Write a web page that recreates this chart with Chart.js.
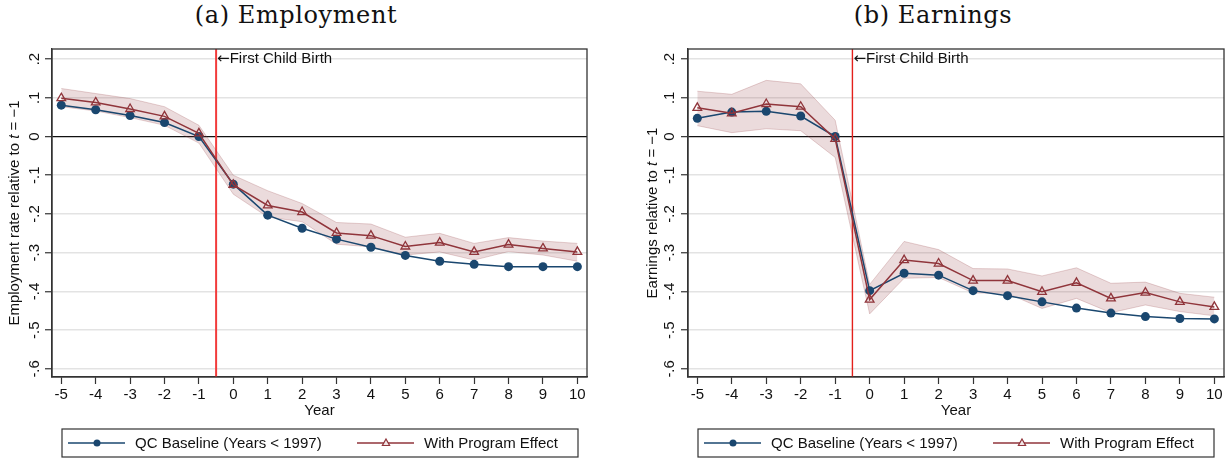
<!DOCTYPE html>
<html>
<head>
<meta charset="utf-8">
<script src="https://cdn.jsdelivr.net/npm/chart.js@4/dist/chart.umd.min.js"></script>
<style>
  body { margin: 0; background: #fff; width: 1232px; height: 459px; position: relative; overflow: hidden; }
  .panel { position: absolute; top: 0; width: 616px; height: 459px; }
  .panel canvas { display: block; }
  .titulo { position: absolute; top: 0; height: 30px; line-height: 30px; text-align: center;
            font-family: "DejaVu Serif", serif; font-size: 24px; letter-spacing: 0.6px; color: #111; white-space: nowrap; }
</style>
</head>
<body>
<div class="titulo" style="left:176px;width:240px;">(a) Employment</div>
<div class="titulo" style="left:813px;width:240px;">(b) Earnings</div>
<div class="panel" style="left:0;"><canvas id="empChart" width="616" height="459"></canvas></div>
<div class="panel" style="left:616px;"><canvas id="earnChart" width="616" height="459"></canvas></div>
<script>
// years around first birth
const years = [-5, -4, -3, -2, -1, 0, 1, 2, 3, 4, 5, 6, 7, 8, 9, 10];
const yTicks = [-0.6, -0.5, -0.4, -0.3, -0.2, -0.1, 0, 0.1, 0.2];
const yTickLabels = ['-.6', '-.5', '-.4', '-.3', '-.2', '-.1', '0', '.1', '.2'];

// employment rate relative to t = -1
const empBase  = [0.081, 0.069, 0.054, 0.036, 0, -0.123, -0.203, -0.237, -0.265, -0.286, -0.307, -0.322, -0.330, -0.336, -0.336, -0.336];
const empProg  = [0.099, 0.088, 0.071, 0.052, 0.008, -0.125, -0.178, -0.195, -0.249, -0.256, -0.284, -0.274, -0.298, -0.279, -0.289, -0.298];
const empUpper = [0.124, 0.111, 0.098, 0.077, 0.029, -0.100, -0.140, -0.173, -0.222, -0.226, -0.260, -0.250, -0.276, -0.261, -0.270, -0.276];
const empLower = [0.077, 0.066, 0.049, 0.029, -0.017, -0.149, -0.208, -0.220, -0.278, -0.285, -0.306, -0.298, -0.319, -0.297, -0.306, -0.322];

// earnings relative to t = -1
const earnBase  = [0.047, 0.063, 0.065, 0.053, 0, -0.398, -0.353, -0.358, -0.398, -0.411, -0.427, -0.443, -0.456, -0.465, -0.470, -0.471];
const earnProg  = [0.074, 0.060, 0.084, 0.077, -0.006, -0.421, -0.319, -0.328, -0.372, -0.372, -0.401, -0.378, -0.418, -0.403, -0.427, -0.440];
const earnUpper = [0.117, 0.109, 0.145, 0.136, 0.042, -0.382, -0.271, -0.292, -0.341, -0.342, -0.360, -0.339, -0.379, -0.376, -0.405, -0.415];
const earnLower = [0.028, 0.010, 0.020, 0.015, -0.054, -0.458, -0.366, -0.364, -0.404, -0.405, -0.444, -0.418, -0.455, -0.435, -0.452, -0.463];

const birthYear = -0.5;
const birthText = 'First Child Birth';
const seriesNames = ['QC Baseline (Years < 1997)', 'With Program Effect'];

const FONT = '"Liberation Sans", Arial, sans-serif';
const BLUE = '#1a476f';
const MAROON = '#90353b';

document.addEventListener('DOMContentLoaded', () => {
    crearGrafico({
        id: 'empChart',
        yTitle: ['Employment rate relative to ', 't', ' = \u22121'],
        base: empBase, prog: empProg, upper: empUpper, lower: empLower,
        axisWidth: 52, padRight: 29, tickLabelX: 35, yTitleX: 15,
        legendLeft: 62, birthColor: '#f23b3b', birthWidth: 2
    });
    crearGrafico({
        id: 'earnChart',
        yTitle: ['Earnings relative to ', 't', ' = \u22121'],
        base: earnBase, prog: earnProg, upper: earnUpper, lower: earnLower,
        axisWidth: 72, padRight: 8, tickLabelX: 54, yTitleX: 37,
        legendLeft: 82, birthColor: '#e3201c', birthWidth: 1.4
    });
});

function pairs(values) {
    return years.map((x, i) => ({ x: x, y: values[i] }));
}

function crearGrafico(cfg) {
    const ctx = document.getElementById(cfg.id).getContext('2d');

    // red line at birth, drawn under the series
    const birthLine = {
        id: 'birthLine',
        beforeDatasetsDraw(chart) {
            const { ctx, chartArea, scales } = chart;
            const x = scales.x.getPixelForValue(birthYear);
            const ty = scales.y.getPixelForValue(0.2);
            ctx.save();
            ctx.strokeStyle = cfg.birthColor;
            ctx.lineWidth = cfg.birthWidth;
            ctx.beginPath();
            ctx.moveTo(x, chartArea.top);
            ctx.lineTo(x, chartArea.bottom);
            ctx.stroke();
            ctx.fillStyle = '#111';
            ctx.textAlign = 'left';
            ctx.textBaseline = 'middle';
            ctx.font = '15px "DejaVu Sans", sans-serif';
            ctx.fillText('\u2190', x + 1, ty);
            const aw = ctx.measureText('\u2190').width;
            ctx.font = '15px ' + FONT;
            ctx.fillText(birthText, x + 1 + aw, ty);
            ctx.restore();
        }
    };

    // frame, vertical tick labels, y title and boxed legend
    const decor = {
        id: 'decor',
        afterDraw(chart) {
            const { ctx, chartArea, scales } = chart;
            ctx.save();
            ctx.strokeStyle = '#333';
            ctx.lineWidth = 1.3;
            ctx.strokeRect(chartArea.left, chartArea.top, chartArea.right - chartArea.left, chartArea.bottom - chartArea.top);

            ctx.fillStyle = '#111';
            ctx.font = '15px ' + FONT;
            ctx.textAlign = 'center';
            ctx.textBaseline = 'middle';
            yTicks.forEach((v, i) => {
                const y = scales.y.getPixelForValue(v);
                ctx.save();
                ctx.translate(cfg.tickLabelX, y);
                ctx.rotate(-Math.PI / 2);
                ctx.fillText(yTickLabels[i], 0, 0);
                ctx.restore();
            });

            // y title with italic t
            const fonts = ['15px ' + FONT, 'italic 15px ' + FONT, '15px ' + FONT];
            let total = 0;
            const widths = cfg.yTitle.map((s, i) => { ctx.font = fonts[i]; const w = ctx.measureText(s).width; total += w; return w; });
            ctx.save();
            ctx.translate(cfg.yTitleX, (chartArea.top + chartArea.bottom) / 2);
            ctx.rotate(-Math.PI / 2);
            ctx.textAlign = 'left';
            let pos = -total / 2;
            cfg.yTitle.forEach((s, i) => { ctx.font = fonts[i]; ctx.fillText(s, pos, 0); pos += widths[i]; });
            ctx.restore();

            // legend
            const lx = cfg.legendLeft, ly = 429, lw = 516, lh = 28, my = ly + lh / 2;
            ctx.strokeStyle = '#333';
            ctx.lineWidth = 1.2;
            ctx.strokeRect(lx, ly, lw, lh);
            const items = [
                { x: lx + 6, color: BLUE, shape: 'circle', text: seriesNames[0] },
                { x: lx + 295, color: MAROON, shape: 'triangle', text: seriesNames[1] }
            ];
            items.forEach(it => {
                ctx.strokeStyle = it.color;
                ctx.lineWidth = 1.5;
                ctx.beginPath();
                ctx.moveTo(it.x, my);
                ctx.lineTo(it.x + 57, my);
                ctx.stroke();
                const cx = it.x + 29;
                if (it.shape === 'circle') {
                    ctx.fillStyle = it.color;
                    ctx.beginPath();
                    ctx.arc(cx, my, 3.5, 0, Math.PI * 2);
                    ctx.fill();
                } else {
                    ctx.fillStyle = '#f1e6e7';
                    ctx.lineWidth = 1.2;
                    ctx.beginPath();
                    ctx.moveTo(cx, my - 4);
                    ctx.lineTo(cx + 3.6, my + 2.5);
                    ctx.lineTo(cx - 3.6, my + 2.5);
                    ctx.closePath();
                    ctx.fill();
                    ctx.stroke();
                }
                ctx.fillStyle = '#111';
                ctx.font = '15px ' + FONT;
                ctx.textAlign = 'left';
                ctx.fillText(it.text, it.x + 67, my + 1);
            });
            ctx.restore();
        }
    };

    return new Chart(ctx, {
        type: 'line',
        data: {
            datasets: [
                {
                    label: seriesNames[1],
                    data: pairs(cfg.prog),
                    borderColor: MAROON,
                    borderWidth: 1.5,
                    pointStyle: 'triangle',
                    pointRadius: 5,
                    pointBackgroundColor: 'rgba(0,0,0,0)',
                    pointBorderColor: MAROON,
                    pointBorderWidth: 1.3,
                    fill: false,
                    order: 0
                },
                {
                    label: seriesNames[0],
                    data: pairs(cfg.base),
                    borderColor: BLUE,
                    borderWidth: 1.5,
                    pointStyle: 'circle',
                    pointRadius: 4.5,
                    pointBackgroundColor: BLUE,
                    pointBorderWidth: 0,
                    fill: false,
                    order: 1
                },
                {
                    label: 'upper',
                    data: pairs(cfg.upper),
                    borderColor: 'rgba(144,53,59,0.22)',
                    borderWidth: 1,
                    pointRadius: 0,
                    backgroundColor: 'rgba(144,53,59,0.18)',
                    fill: '+1',
                    order: 2
                },
                {
                    label: 'lower',
                    data: pairs(cfg.lower),
                    borderColor: 'rgba(144,53,59,0.22)',
                    borderWidth: 1,
                    pointRadius: 0,
                    fill: false,
                    order: 3
                }
            ]
        },
        options: {
            responsive: false,
            animation: false,
            layout: { padding: { left: 0, right: cfg.padRight, top: 49, bottom: 0 } },
            plugins: { legend: { display: false }, tooltip: { enabled: false } },
            scales: {
                x: {
                    type: 'linear',
                    min: -5.27,
                    max: 10.28,
                    afterBuildTicks: s => { s.ticks = years.map(v => ({ value: v })); },
                    afterFit: s => { s.height = 82; },
                    grid: { drawOnChartArea: false, tickLength: 7, tickColor: '#333', tickWidth: 1.2 },
                    border: { color: '#333', width: 1.3 },
                    ticks: {
                        font: { family: FONT, size: 15 },
                        color: '#111',
                        padding: 2,
                        maxRotation: 0,
                        autoSkip: false,
                        callback: v => String(v)
                    },
                    title: {
                        display: true,
                        text: 'Year',
                        font: { family: FONT, size: 15 },
                        color: '#111',
                        padding: { top: 0, bottom: 39 }
                    }
                },
                y: {
                    min: -0.621,
                    max: 0.226,
                    afterBuildTicks: s => { s.ticks = yTicks.map(v => ({ value: v })); },
                    afterFit: s => { s.width = cfg.axisWidth; },
                    grid: {
                        color: c => (c.tick && c.tick.value === 0 ? '#111' : '#e3e3e3'),
                        lineWidth: c => (c.tick && c.tick.value === 0 ? 1.3 : 1.5),
                        tickLength: 7,
                        tickColor: '#333',
                        tickWidth: 1.2
                    },
                    border: { color: '#333', width: 1.3 },
                    ticks: { display: false }
                }
            }
        },
        plugins: [birthLine, decor]
    });
}
</script>
</body>
</html>
